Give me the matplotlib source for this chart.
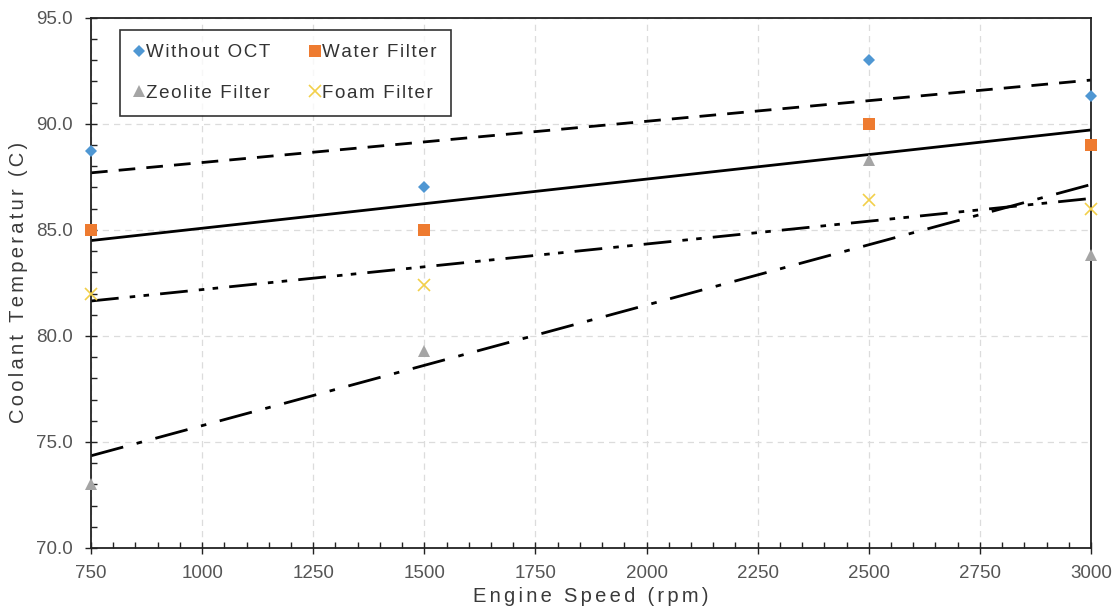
import numpy as np
import matplotlib.pyplot as plt
from matplotlib.ticker import MultipleLocator

plt.rcParams['font.family'] = ['Liberation Sans', 'DejaVu Sans']

# data
speed = [750, 1500, 2500, 3000]
without_oct = [88.7, 87.0, 93.0, 91.3]
water_filter = [85.0, 85.0, 90.0, 89.0]
zeolite_filter = [73.0, 79.3, 88.3, 83.8]
foam_filter = [82.0, 82.4, 86.4, 86.0]

series = [
    ("Without OCT", without_oct, "D", "#4f97d3", (0, (6, 4)), 6),
    ("Water Filter", water_filter, "s", "#ee7b30", "-", 8),
    ("Zeolite Filter", zeolite_filter, "^", "#a5a5a5", (0, (12, 5, 2, 5)), 8.5),
    ("Foam Filter", foam_filter, "x", "#f2cf4a", (0, (10, 4, 2, 3, 2, 4)), 8),
]


def spaced(s, n=1):
    # wide letter spacing like the original
    return ("\u200a" * n).join(s)


fig = plt.figure(figsize=(11.14, 6.15), dpi=100)
ax = fig.add_axes([0.0817, 0.109, 0.8977, 0.862])

x = np.array(speed, dtype=float)
handles = {}
for name, vals, mk, col, ls, ms in series:
    h, = ax.plot(speed, vals, linestyle='none', marker=mk, color=col, markersize=ms,
                 markeredgewidth=1.2 if mk == 'x' else 0, zorder=3, clip_on=False)
    handles[name] = h
    # linear trendline
    k, b = np.polyfit(x, vals, 1)
    xs = np.array([speed[0], speed[-1]], dtype=float)
    ax.plot(xs, k * xs + b, color='black', linestyle=ls, linewidth=2, zorder=2)

ax.set_xlim(750, 3000)
ax.set_ylim(70, 95)
ax.xaxis.set_major_locator(MultipleLocator(250))
ax.xaxis.set_minor_locator(MultipleLocator(50))
ax.yaxis.set_major_locator(MultipleLocator(5))
ax.yaxis.set_minor_locator(MultipleLocator(1))
ax.yaxis.set_major_formatter(plt.FormatStrFormatter('%.1f'))

ax.grid(True, which='major', color='#dcdcdc', linestyle=(0, (5, 4)), linewidth=0.9)
ax.tick_params(which='major', direction='inout', length=8, width=1, labelsize=13.5,
               colors='#222222', labelcolor='#555555')
ax.tick_params(axis='x', which='major', pad=8)
ax.tick_params(axis='y', which='major', pad=9)
ax.tick_params(which='minor', direction='in', length=4, width=1, colors='#222222')
for s in ax.spines.values():
    s.set_linewidth(1.3)
    s.set_color('#222222')

ax.set_xlabel(spaced("Engine Speed (rpm)", 2), fontsize=14.5, color='#3a3a3a', labelpad=4)
ax.set_ylabel(spaced("Coolant Temperatur (C)", 2), fontsize=14.5, color='#3a3a3a', labelpad=6)

order = ["Without OCT", "Zeolite Filter", "Water Filter", "Foam Filter"]
leg = ax.legend([handles[n] for n in order], [spaced(n) for n in order],
                ncol=2, loc='upper left', bbox_to_anchor=(0.029, 0.977), frameon=True,
                fancybox=False, edgecolor='black', fontsize=13.5, handlelength=0.5,
                handletextpad=0.15, columnspacing=2.1, labelspacing=1.25, borderpad=0.75,
                borderaxespad=0)
leg.get_frame().set_linewidth(1.2)
for t in leg.get_texts():
    t.set_color('#333333')

fig.savefig("out.png", dpi=100)
